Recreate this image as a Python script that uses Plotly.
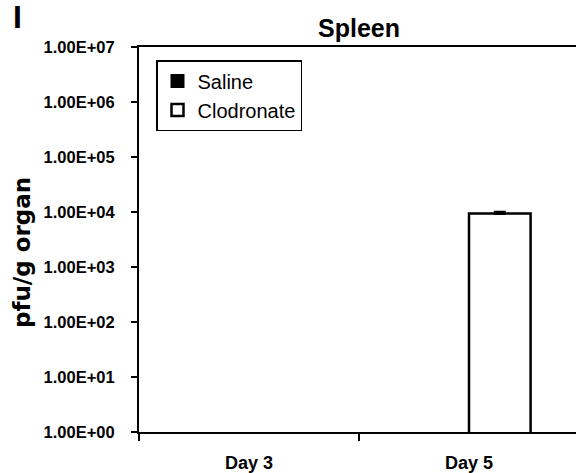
import plotly.graph_objects as go

categories = ["Day 3", "Day 5"]
saline = [None, None]
clodronate = [None, 9400]
clodronate_err = [0, 500]
ytick_vals = [1, 10, 100, 1000, 10000, 100000, 1000000, 10000000]
ytick_text = ["1.00E+00", "1.00E+01", "1.00E+02", "1.00E+03",
              "1.00E+04", "1.00E+05", "1.00E+06", "1.00E+07"]

arial = "Liberation Sans, Arial, sans-serif"
dejavu = "DejaVu Sans, sans-serif"

W, H = 576, 473
L, T, B, R = 139, 47, 41, 0
plot_left, plot_top = L, T
plot_w, plot_h = W - L - R, H - T - B


def px(x):
    return (x - plot_left) / plot_w


def py(y):
    return (plot_top + plot_h - y) / plot_h


fig = go.Figure()
fig.add_trace(go.Bar(
    name="Saline", x=categories, y=saline,
    marker=dict(color="black", line=dict(color="black", width=2)),
))
fig.add_trace(go.Bar(
    name="Clodronate", x=categories, y=clodronate,
    marker=dict(color="white", line=dict(color="black", width=2.5)),
    error_y=dict(type="data", array=clodronate_err, arrayminus=[0, 0],
                 symmetric=False, color="black", thickness=3, width=6),
))

fig.update_layout(
    width=W, height=H,
    margin=dict(l=L, r=R, t=T, b=B, autoexpand=False),
    paper_bgcolor="white", plot_bgcolor="white",
    barmode="group", bargap=0.44, bargroupgap=0,
    font=dict(family=arial, color="black"),
    legend=dict(x=px(156), y=py(60), xanchor="left", yanchor="top",
                bordercolor="black", borderwidth=1.5, bgcolor="white",
                font=dict(size=20, family=arial), tracegroupgap=0,
                itemwidth=30),
    showlegend=True,
)
fig.update_xaxes(
    range=[-0.5, -0.5 + plot_w / 220], showline=True, linecolor="black",
    linewidth=2, mirror=True, ticks="outside", tickson="boundaries",
    ticklen=7, tickwidth=2, tickcolor="black", showgrid=False,
    tickfont=dict(size=18, family=arial, weight="bold"),
    ticklabelstandoff=13,
)
fig.update_yaxes(
    type="log", range=[0, 7], showline=True, linecolor="black", linewidth=2,
    ticks="outside", ticklen=6, tickwidth=2, tickcolor="black",
    tickvals=ytick_vals, ticktext=ytick_text, showgrid=False,
    tickfont=dict(size=16.5, family=arial, weight="bold"),
    ticklabelstandoff=13, zeroline=False,
)

fig.add_annotation(text="<b>pfu/g organ</b>", xref="paper", yref="paper",
                   x=px(22), y=py(252), xanchor="center", yanchor="middle",
                   textangle=-90, showarrow=False,
                   font=dict(size=23, family=dejavu))
fig.add_annotation(text="<b>Spleen</b>", xref="paper", yref="paper",
                   x=px(359), y=py(28), xanchor="center", yanchor="middle",
                   showarrow=False, font=dict(size=25, family=arial))
fig.add_annotation(text="<b>I</b>", xref="paper", yref="paper",
                   x=px(17), y=py(17), xanchor="center", yanchor="middle",
                   showarrow=False, font=dict(size=32, family=arial))

fig.write_html(
    "out.html",
    config={"displayModeBar": False},
    post_script="document.body.style.margin='0';document.body.style.overflow='hidden';",
)
